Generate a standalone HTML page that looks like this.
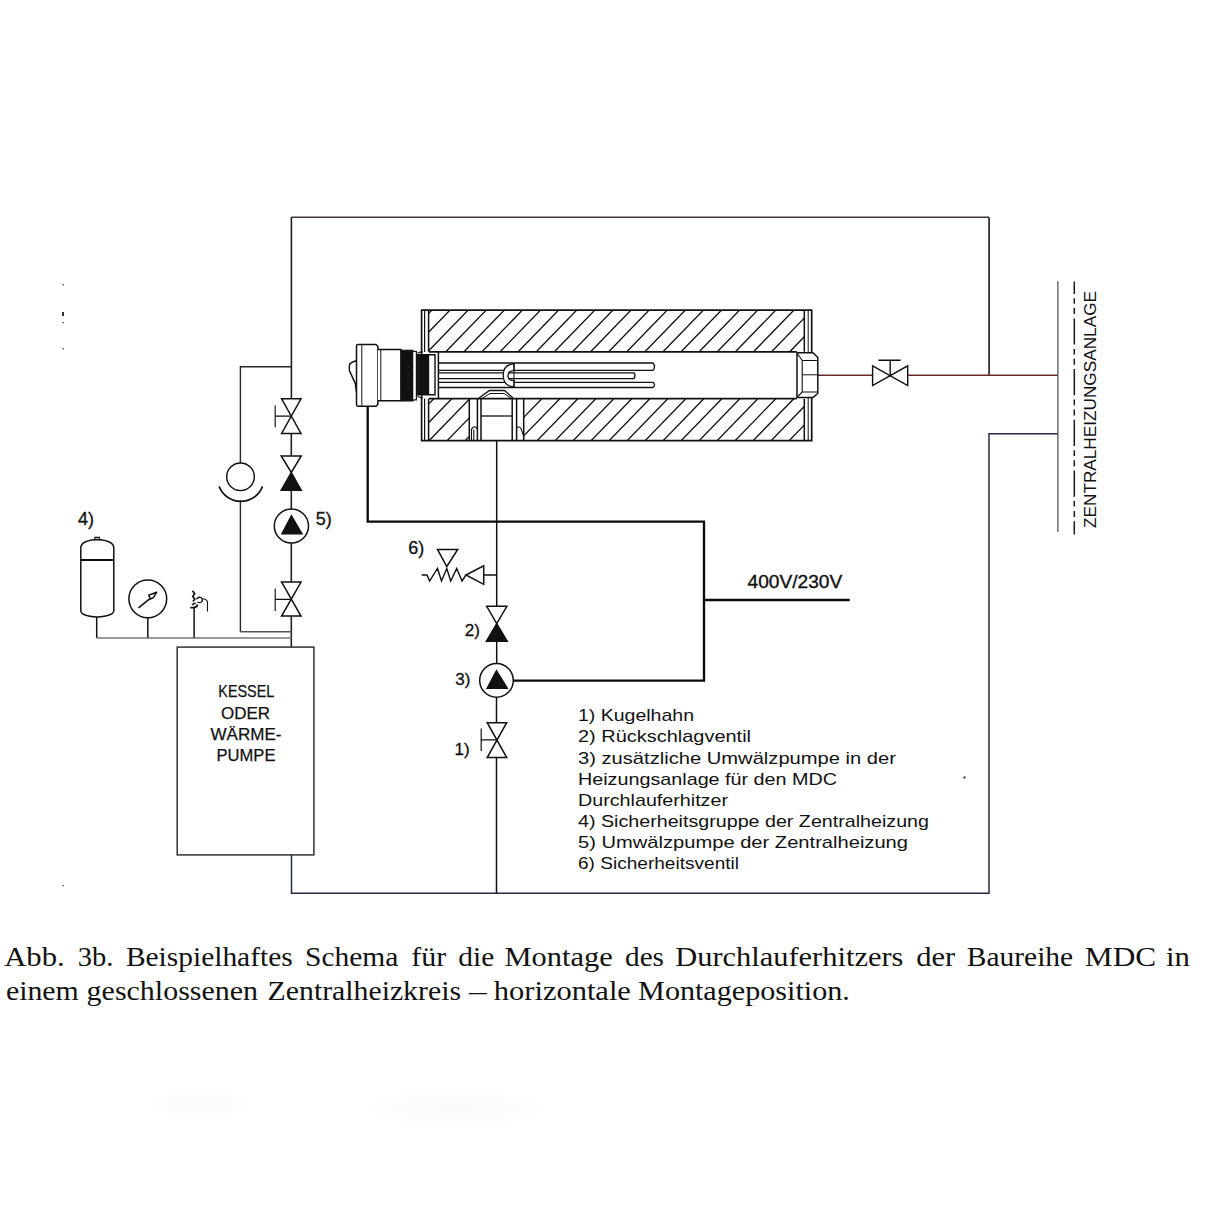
<!DOCTYPE html>
<html><head><meta charset="utf-8"><style>
html,body{margin:0;padding:0;background:#fff;width:1214px;height:1214px;overflow:hidden}
svg{display:block}
</style></head><body>
<svg width="1214" height="1214" viewBox="0 0 1214 1214">
<defs>
<clipPath id="cu"><rect x="429" y="310" width="375" height="41.8"/></clipPath>
<clipPath id="cl"><rect x="429" y="398.7" width="40.3" height="42"/><rect x="523.7" y="398.7" width="280.3" height="42"/></clipPath>
</defs>
<rect width="1214" height="1214" fill="#fff"/>

<!-- frame pipes -->
<g fill="none" stroke="#2a1e1e" stroke-width="1.6">
<path d="M291.3,217.2 H989.1" stroke="#463838" stroke-width="1.4"/>
<path d="M989.1,217.2 V375.2" stroke="#221818" stroke-width="1.6"/>
<path d="M291.4,217 V398.8 M291.3,433.4 V455.8 M291.3,490.3 V509 M291.3,543 V582.1 M291.3,616.1 V647"/>
<path d="M291.3,366.7 H240.4 V463 M240.4,500 V631.7" stroke="#2a2424" stroke-width="1.4"/><path d="M240.4,631.8 H291.3" stroke="#555" stroke-width="1.5"/>
<path d="M96.7,637.9 H291.3" stroke="#777" stroke-width="1.5"/>
</g>
<path d="M818,375.2 H872.6 M907.7,375.2 H1058" stroke="#6b2a2a" stroke-width="1.5" fill="none"/>
<path d="M1058,433.7 H989 V893.3 H291.5 V855" stroke="#262848" stroke-width="1.5" fill="none"/>
<g fill="#fff" stroke="#111" stroke-width="1.4">
<path d="M872.6,365.8 L907.7,385.6 V365.8 L872.6,385.6 Z"/>
<path d="M890.2,375.2 V360.2 M878.4,360.2 H900.6" fill="none"/>
</g>
<path d="M1057.9,281.3 V532" stroke="#555" stroke-width="1.3"/>
<path d="M1074.3,281.4 V534.4" stroke="#1a1a1a" stroke-width="1.5" stroke-dasharray="26.2 4.3 5.6 4.3 6 4.3" stroke-dashoffset="13.7"/>

<!-- valves left column -->
<g fill="#fff" stroke="#111" stroke-width="1.5" stroke-linejoin="miter">
<path d="M281.6,398.8 H301 L281.6,433.4 H301 Z"/>
<path d="M275.2,405.6 V427.2 M275.2,416.1 H291.3" fill="none" stroke-width="1.15"/>
<path d="M281.2,455.9 H301.2 L291.3,472.5 Z"/>
<path d="M291.3,472.5 L301.2,490.2 H281.2 Z" fill="#111"/>
<circle cx="291.4" cy="526" r="17.1"/>
<path d="M291.4,515.9 L301.9,533.7 H282 Z" fill="#111"/>
<path d="M281.6,582.1 H301 L281.6,616.1 H301 Z"/>
<path d="M275.2,588.5 V610.9 M275.2,599.4 H291.3" fill="none" stroke-width="1.15"/>
<circle cx="240.5" cy="476.8" r="13.8" stroke-width="1.4"/>
<path d="M219.1,486.4 A23.2,23.2 0 0 0 262.5,486.4" fill="none" stroke-width="1.6"/>
</g>

<!-- boiler -->
<rect x="177.2" y="647.1" width="136.7" height="207.8" fill="none" stroke="#333" stroke-width="1.5"/>
<g font-family="Liberation Sans, sans-serif" font-size="17" fill="#111" stroke="#111" stroke-width="0.25" text-anchor="middle">
<text x="246.3" y="697.3" textLength="56" lengthAdjust="spacingAndGlyphs">KESSEL</text>
<text x="245.5" y="719.2" textLength="49" lengthAdjust="spacingAndGlyphs">ODER</text>
<text x="246" y="740" textLength="71" lengthAdjust="spacingAndGlyphs">WÄRME-</text>
<text x="246" y="761.2" textLength="59" lengthAdjust="spacingAndGlyphs">PUMPE</text>
</g>

<!-- tank, gauge, safety -->
<g fill="none" stroke="#111" stroke-width="1.5">
<path d="M80.8,610.5 V548 Q80.8,540.5 97,539.5 Q113.8,540.5 113.8,548 V610.5 Q113.8,616 97,617 Q80.8,616 80.8,610.5 Z"/>
<path d="M80.8,560 H113.8" stroke-width="1.8"/>
<path d="M94.8,540.2 V537.4 H99.4 V540.2" stroke-width="1.1"/>
<path d="M96.7,617 V637.8"/>
<circle cx="147.8" cy="598.8" r="18.9"/>
<path d="M147.8,617.7 V637.8"/>
<path d="M138.5,607.9 L149.9,598.6" stroke-width="1.6"/>
<path d="M150.6,599 L148.6,595.2 L156.6,592.3 L153.4,597.6 Z" stroke-width="1.5" stroke-linejoin="round"/>
<path d="M194.1,607.9 V637.8"/>
<path d="M192.5,590.8 L194.6,593.6 L192.8,596.5 L194.8,599 L193,601.5" stroke-width="1.7"/>
<path d="M196.5,599.2 Q198,596.6 201,597.5 Q203.5,599.5 201.5,602 Q199.5,603.2 197.3,602" stroke-width="1.3"/>
<path d="M202.5,598.8 Q206.5,599 207.5,602 V611.5" stroke-width="1.1"/>
<path d="M190.3,607.6 H193.5 Q197,607.6 197.6,604.5 M192.2,605 Q193.5,603 195.8,603.6" stroke-width="1.6"/>
</g>

<!-- right vertical pipe with valves -->
<g fill="#fff" stroke="#111" stroke-width="1.5">
<path d="M496.7,440.7 V606.3 M496.7,641.2 V663.7 M496.5,697 V722.7 M496.5,757.6 V893.3" fill="none"/>
<path d="M483.7,575 H496.7" fill="none"/>
<path d="M466,575 L483.7,565.8 V584.3 Z"/>
<path d="M421.7,575 H427 L429.6,581 L437.5,568.5 L441.5,581 L446.8,568.5 L450.7,581 L456.7,568.5 L462,581 L466,575" fill="none" stroke-width="1.4"/>
<path d="M437.5,549.4 H457.7 L446.8,566.5 Z" />
<path d="M486.7,606.3 H506.9 L496.7,623.6 Z"/>
<path d="M496.7,623.6 L507.2,641.2 H486.4 Z" fill="#111"/>
<circle cx="496.5" cy="680.4" r="16.8"/>
<path d="M496.5,670.8 L507.3,688.3 H487.2 Z" fill="#111"/>
<path d="M487.2,722.7 H506.7 L487.2,757.6 H506.7 Z"/>
<path d="M481.2,728.6 V750.9 M481.2,739.9 H496.5" fill="none" stroke-width="1.2"/>
</g>

<!-- electric -->
<path d="M367.7,406.6 V521.7 H704 V680.7 H513.3 M704,600 H849.7" fill="none" stroke="#0a0a0a" stroke-width="2.3"/>

<!-- heater -->
<g id="heater">
<path d="M341.5,310L301.0,351.8M359.6,310L319.1,351.8M377.7,310L337.2,351.8M395.8,310L355.3,351.8M413.9,310L373.4,351.8M432.0,310L391.5,351.8M450.1,310L409.6,351.8M468.2,310L427.7,351.8M486.3,310L445.8,351.8M504.4,310L463.9,351.8M522.5,310L482.0,351.8M540.6,310L500.1,351.8M558.7,310L518.2,351.8M576.8,310L536.3,351.8M594.9,310L554.4,351.8M613.0,310L572.5,351.8M631.1,310L590.6,351.8M649.2,310L608.7,351.8M667.3,310L626.8,351.8M685.4,310L644.9,351.8M703.5,310L663.0,351.8M721.6,310L681.1,351.8M739.7,310L699.2,351.8M757.8,310L717.3,351.8M775.9,310L735.4,351.8M794.0,310L753.5,351.8M812.1,310L771.6,351.8M830.2,310L789.7,351.8M848.3,310L807.8,351.8M866.4,310L825.9,351.8M884.5,310L844.0,351.8M902.6,310L862.1,351.8" clip-path="url(#cu)" stroke="#111" stroke-width="1.3" fill="none"/>
<path d="M343.8,398.7L303.1,440.7M361.8,398.7L321.1,440.7M379.8,398.7L339.1,440.7M397.8,398.7L357.1,440.7M415.8,398.7L375.1,440.7M433.8,398.7L393.1,440.7M451.8,398.7L411.1,440.7M469.8,398.7L429.1,440.7M487.8,398.7L447.1,440.7M505.8,398.7L465.1,440.7M523.8,398.7L483.1,440.7M541.8,398.7L501.1,440.7M559.8,398.7L519.1,440.7M577.8,398.7L537.1,440.7M595.8,398.7L555.1,440.7M613.8,398.7L573.1,440.7M631.8,398.7L591.1,440.7M649.8,398.7L609.1,440.7M667.8,398.7L627.1,440.7M685.8,398.7L645.1,440.7M703.8,398.7L663.1,440.7M721.8,398.7L681.1,440.7M739.8,398.7L699.1,440.7M757.8,398.7L717.1,440.7M775.8,398.7L735.1,440.7M793.8,398.7L753.1,440.7M811.8,398.7L771.1,440.7M829.8,398.7L789.1,440.7M847.8,398.7L807.1,440.7M865.8,398.7L825.1,440.7M883.8,398.7L843.1,440.7M901.8,398.7L861.1,440.7" clip-path="url(#cl)" stroke="#111" stroke-width="1.3" fill="none"/>
<g fill="none" stroke="#111" stroke-width="1.5">
<path d="M421.6,310.2 H811.7 V440.7 H421.6 Z" stroke-width="1.7"/>
<path d="M428.6,310.2 V351.8 M428.6,398.7 V440.7"/><path d="M424.6,310.2 V352 M424.6,398.5 V440.7" stroke-width="1.2"/>
<path d="M804.3,310.2 V351.8 M804.3,398.7 V440.7"/>
<path d="M429,351.8 H796.8 M429,398.7 H796.8" stroke-width="1.7"/>
<path d="M438.4,351.8 V398.7"/>
<path d="M438.4,363 H653 Q656,366.6 653,370.3 H438.4" stroke-width="1.3"/>
<path d="M438.4,372.8 H634 Q636,375.5 634,378.6 H438.4" stroke-width="1.3"/>
<path d="M438.4,382.3 H653 Q656,385 653,387.5 H438.4" stroke-width="1.3"/>
<path d="M469.3,398.7 V440.7 M477.4,398.7 V440.7 M481,398.7 V440.7 M512.2,398.7 V440.7 M516.6,398.7 V440.7 M523.7,398.7 V440.7"/>
<path d="M471.5,440 V429.5 Q472.5,426.8 475,426.8 Q477,427.2 477.4,429.5 M473.8,429.5 V440 M516.6,428 Q519,425.8 521,428.5 L523.7,436" stroke-width="1.1"/>
<path d="M481,416 H512.3" stroke-width="1.3"/>
<path d="M479,398 L489.5,390.5 H504.5 L513,398" stroke-width="1.3"/>
<path d="M481,399 L490,393.5 H504 L512,399" stroke-width="1"/>
<path d="M514,363.8 Q503.2,364.5 503.2,375.3 Q503.2,386.2 514,386.8 V380.6 Q508,380.5 508,375.5 Q508,370.8 514,370.6 Z" fill="#fff" stroke-width="1.3"/><path d="M514,363 V387.5" stroke-width="1"/>
<path d="M808.2,310.2 V352 M808.2,398 V440.7" stroke-width="1"/>
<path d="M797,352.8 H813 L817.8,357.5 V393.5 L813,397.6 H797 Z" stroke-width="1.5" fill="#fff"/>
<path d="M797.3,353.5 L802.2,360.5 V392 L797.3,397 M802.2,360.5 H817.5 M802.2,392 H817.5" stroke-width="1.1"/>
<path d="M802.2,374.8 H818" stroke-width="1"/>


</g>
<!-- heater head -->
<g stroke="#111" stroke-width="1.4">
<path d="M356.5,360.5 L350.5,363 Q348.6,365.5 349.6,371 L355.3,383.5 L356.5,392" fill="#fff" stroke-width="1.5"/>
<path d="M356.5,346 Q356.5,344.4 358,344.4 H376 L377.9,346.5 V404.2 L376,406.2 H358 Q356.5,406.2 356.5,404.6 Z" fill="#fff" stroke-width="1.5"/>
<path d="M361.8,345 V406" fill="none" stroke-width="1"/>
<path d="M377.9,349.4 H401 V400.8 H377.9" fill="#fff" stroke-width="1.5"/>
<path d="M380.8,349.6 V400.6" fill="none" stroke-width="1"/>
<path d="M401,350.2 H413.3 V401 H401 Z" fill="#111" stroke-width="1"/>
<path d="M413.3,351.5 H416.4 V399.8 H413.3" fill="#fff" stroke-width="1.2"/>
<g fill="#777" stroke="none"><rect x="407.8" y="367" width="0.8" height="0.8"/><rect x="407.8" y="374" width="0.8" height="0.8"/><rect x="407.8" y="381" width="0.8" height="0.8"/><rect x="407.8" y="388" width="0.8" height="0.8"/></g>
<path d="M417.2,354.7 H435 V394.7 H417.2 Z" fill="#fff" stroke-width="1.4"/>
<rect x="417.6" y="355" width="11.6" height="39.4" fill="#111" stroke="none"/>
<path d="M417.5,353.2 Q420,351.8 423,351.8 M417.5,396.2 Q420,397.8 423,397.8" fill="none" stroke-width="1.2"/>
</g>
</g>

<!-- labels -->
<g font-family="Liberation Sans, sans-serif" fill="#111">
<g stroke="#111" stroke-width="0.3">
<text x="78" y="525" font-size="18">4)</text>
<text x="315.8" y="525" font-size="18">5)</text>
<text x="408.2" y="554" font-size="18">6)</text>
<text x="464.8" y="635.5" font-size="17">2)</text>
<text x="455.2" y="685" font-size="17">3)</text>
<text x="454.5" y="754.5" font-size="17">1)</text>
</g>
<text x="747.5" y="588" font-size="18" stroke="#111" stroke-width="0.35" textLength="94.8" lengthAdjust="spacingAndGlyphs">400V/230V</text>
</g>
<g font-family="Liberation Sans, sans-serif" fill="#111" font-size="16.2">
<text x="578" y="721.4" textLength="116" lengthAdjust="spacingAndGlyphs">1) Kugelhahn</text>
<text x="578" y="742.4" textLength="173" lengthAdjust="spacingAndGlyphs">2) Rückschlagventil</text>
<text x="578" y="763.5" textLength="318" lengthAdjust="spacingAndGlyphs">3) zusätzliche Umwälzpumpe in der</text>
<text x="578" y="784.6" textLength="259" lengthAdjust="spacingAndGlyphs">Heizungsanlage für den MDC</text>
<text x="578" y="805.7" textLength="150" lengthAdjust="spacingAndGlyphs">Durchlauferhitzer</text>
<text x="578" y="826.8" textLength="351" lengthAdjust="spacingAndGlyphs">4) Sicherheitsgruppe der Zentralheizung</text>
<text x="578" y="847.9" textLength="330" lengthAdjust="spacingAndGlyphs">5) Umwälzpumpe der Zentralheizung</text>
<text x="578" y="869" textLength="161" lengthAdjust="spacingAndGlyphs">6) Sicherheitsventil</text>
</g>
<text transform="translate(1096,528) rotate(-90)" font-family="Liberation Sans, sans-serif" font-size="17" fill="#111" textLength="237" lengthAdjust="spacingAndGlyphs">ZENTRALHEIZUNGSANLAGE</text>

<!-- caption -->
<g font-family="Liberation Serif, serif" font-size="28" fill="#111">
<text x="4.2" y="965.8" textLength="60.6" lengthAdjust="spacingAndGlyphs">Abb.</text>
<text x="77.8" y="965.8" textLength="35.7" lengthAdjust="spacingAndGlyphs">3b.</text>
<text x="125.9" y="965.8" textLength="166.8" lengthAdjust="spacingAndGlyphs">Beispielhaftes</text>
<text x="305.0" y="965.8" textLength="93.4" lengthAdjust="spacingAndGlyphs">Schema</text>
<text x="411.2" y="965.8" textLength="35.0" lengthAdjust="spacingAndGlyphs">für</text>
<text x="458.3" y="965.8" textLength="35.9" lengthAdjust="spacingAndGlyphs">die</text>
<text x="504.5" y="965.8" textLength="108.3" lengthAdjust="spacingAndGlyphs">Montage</text>
<text x="625.0" y="965.8" textLength="39.0" lengthAdjust="spacingAndGlyphs">des</text>
<text x="675.2" y="965.8" textLength="228.2" lengthAdjust="spacingAndGlyphs">Durchlauferhitzers</text>
<text x="916.2" y="965.8" textLength="39.0" lengthAdjust="spacingAndGlyphs">der</text>
<text x="966.8" y="965.8" textLength="106.4" lengthAdjust="spacingAndGlyphs">Baureihe</text>
<text x="1084.8" y="965.8" textLength="71.4" lengthAdjust="spacingAndGlyphs">MDC</text>
<text x="1165.9" y="965.8" textLength="23.9" lengthAdjust="spacingAndGlyphs">in</text>
<text x="5.9" y="999.6" textLength="72.9" lengthAdjust="spacingAndGlyphs">einem</text>
<text x="86.6" y="999.6" textLength="171.5" lengthAdjust="spacingAndGlyphs">geschlossenen</text>
<text x="267.6" y="999.6" textLength="193.4" lengthAdjust="spacingAndGlyphs">Zentralheizkreis</text>
<text x="469.0" y="999.6" textLength="17.7" lengthAdjust="spacingAndGlyphs">–</text>
<text x="493.8" y="999.6" textLength="137.1" lengthAdjust="spacingAndGlyphs">horizontale</text>
<text x="638.1" y="999.6" textLength="211.7" lengthAdjust="spacingAndGlyphs">Montageposition.</text>
</g>

<!-- smudges -->
<defs>
<radialGradient id="sm"><stop offset="0" stop-color="#eef2f5" stop-opacity="0.45"/><stop offset="1" stop-color="#e8eef2" stop-opacity="0"/></radialGradient>
</defs>
<ellipse cx="200" cy="1104" rx="55" ry="14" fill="url(#sm)"/>
<ellipse cx="455" cy="1108" rx="95" ry="20" fill="url(#sm)"/>
<!-- specks -->
<g fill="#333">
<rect x="62.5" y="284" width="1.3" height="1.3"/>
<rect x="62" y="312" width="2" height="4"/>
<rect x="62.5" y="322" width="1.3" height="1.3"/>
<rect x="62.5" y="348" width="1.3" height="1.3"/>
<rect x="963.5" y="776.5" width="2" height="2"/>
<rect x="62.5" y="885" width="1.3" height="1.3"/>
</g>
</svg>
</body></html>
